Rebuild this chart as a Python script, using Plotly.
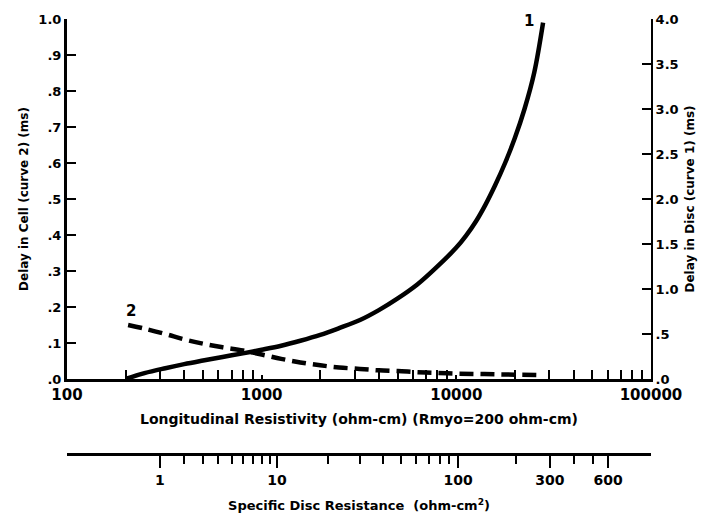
import plotly.graph_objects as go

# Curve 1: conduction delay in the disc (ms, right axis) vs longitudinal resistivity
resistivity_disc = [200, 250, 320, 400, 500, 630, 800, 1000, 1260, 1580, 2000, 2500,
                    3200, 4000, 5000, 6300, 7900, 10000, 11200, 12600, 14100, 15800,
                    17800, 20000, 22400, 25100, 27900]
delay_disc_ms = [0.0, 0.065, 0.12, 0.165, 0.205, 0.245, 0.285, 0.325, 0.37, 0.425,
                 0.49, 0.565, 0.655, 0.765, 0.895, 1.05, 1.24, 1.46, 1.59, 1.75,
                 1.935, 2.15, 2.40, 2.68, 3.00, 3.40, 3.96]

# Curve 2: conduction delay in the cell (ms, left axis)
resistivity_cell = [206, 250, 320, 400, 500, 630, 800, 1000, 1260, 1580, 2000, 2500,
                    3200, 4000, 5000, 6300, 7900, 10000, 12600, 15800, 20000, 26900]
delay_cell_ms = [0.15, 0.14, 0.125, 0.11, 0.098, 0.088, 0.079, 0.068, 0.056, 0.046,
                 0.038, 0.032, 0.028, 0.024, 0.022, 0.019, 0.017, 0.015, 0.014, 0.013,
                 0.012, 0.011]

# Longitudinal resistivity = Rmyo + 100 * specific disc resistance
R_MYO = 200
DISC_FACTOR = 100
disc_major = [1, 10, 100, 300, 600]
disc_major_text = ["1", "10", "100", "300", "600"]
disc_minor = [2, 3, 4, 5, 6, 7, 8, 9, 20, 30, 40, 50, 60, 70, 80, 90, 200, 400, 500]

rho_major = [10 ** k for k in range(2, 6)]
rho_major_text = ["100", "1000", "10000", "100000"]
rho_minor = [m * 10 ** k for k in range(2, 5) for m in range(2, 10)]

left_vals = [i / 10 for i in range(11)]
left_text = ["1.0" if v == 1 else ("." + str(int(round(v * 10)))) for v in left_vals]
right_vals = [i / 2 for i in range(9)]
right_text = [("%.1f" % v) if v >= 1 else ("." + str(int(round(v * 10)))) for v in right_vals]
right_text[0] = ".0"

FONT = "DejaVu Sans"
INK = "#000000"

fig = go.Figure()

fig.add_trace(go.Scatter(
    x=resistivity_disc, y=delay_disc_ms, xaxis="x", yaxis="y2",
    mode="lines", line=dict(color=INK, width=4.5, shape="spline", smoothing=1),
    showlegend=False, hoverinfo="skip"))

fig.add_trace(go.Scatter(
    x=resistivity_cell, y=delay_cell_ms, xaxis="x", yaxis="y",
    mode="lines", line=dict(color=INK, width=4.5, dash="14px,7px", shape="spline"),
    showlegend=False, hoverinfo="skip"))

# carrier trace so the disc-resistance scale is drawn
fig.add_trace(go.Scatter(
    x=[R_MYO + DISC_FACTOR * r for r in disc_major], y=[0] * len(disc_major),
    xaxis="x2", yaxis="y", mode="markers", marker=dict(opacity=0),
    showlegend=False, hoverinfo="skip"))

plot_bottom = 75 / 435

fig.update_layout(
    width=716, height=515,
    margin=dict(l=67, r=65, t=19, b=61),
    paper_bgcolor="white", plot_bgcolor="white",
    font=dict(family=FONT, color=INK, size=13, weight="bold"),
    xaxis=dict(
        type="log", range=[2, 5], domain=[0, 1], anchor="y",
        showline=True, linewidth=2.5, linecolor=INK, showgrid=False, zeroline=False,
        ticks="inside", ticklen=4, tickwidth=2, tickcolor=INK,
        tickmode="array", tickvals=rho_major, ticktext=rho_major_text,
        tickfont=dict(size=15, family=FONT, weight="bold"),
        minor=dict(tickmode="array", tickvals=rho_minor, ticks="inside",
                   ticklen=9, tickwidth=2, tickcolor=INK, showgrid=False),
        title=dict(text="Longitudinal Resistivity (ohm-cm) (Rmyo=200 ohm-cm)",
                   font=dict(size=14, family=FONT, weight="bold"), standoff=12),
        automargin=False,
    ),
    xaxis2=dict(
        type="log", range=[2, 5], overlaying="x", anchor="free", position=0,
        side="bottom",
        showline=True, linewidth=3, linecolor=INK, showgrid=False, zeroline=False,
        ticks="outside", ticklen=12, tickwidth=2, tickcolor=INK,
        tickmode="array", tickvals=[R_MYO + DISC_FACTOR * r for r in disc_major],
        ticktext=disc_major_text,
        tickfont=dict(size=14, family=FONT, weight="bold"),
        minor=dict(tickmode="array",
                   tickvals=[R_MYO + DISC_FACTOR * r for r in disc_minor],
                   ticks="outside", ticklen=8, tickwidth=2, tickcolor=INK, showgrid=False),
        title=dict(text="Specific Disc Resistance  (ohm-cm<sup>2</sup>)",
                   font=dict(size=13, family=FONT, weight="bold"), standoff=14),
        automargin=False,
    ),
    yaxis=dict(
        range=[0, 1], domain=[plot_bottom, 1], anchor="x",
        showline=True, linewidth=3, linecolor=INK, showgrid=False, zeroline=False,
        ticks="inside", ticklen=9, tickwidth=2, tickcolor=INK,
        tickmode="array", tickvals=left_vals, ticktext=left_text,
        tickfont=dict(size=13, family=FONT, weight="bold"),
        title=dict(text="Delay in Cell (curve 2) (ms)",
                   font=dict(size=12, family=FONT, weight="bold"), standoff=8),
        automargin=False,
    ),
    yaxis2=dict(
        range=[0, 4], overlaying="y", side="right", anchor="x",
        showline=True, linewidth=2, linecolor=INK, showgrid=False, zeroline=False,
        ticks="inside", ticklen=9, tickwidth=2, tickcolor=INK,
        tickmode="array", tickvals=right_vals, ticktext=right_text,
        tickfont=dict(size=13, family=FONT, weight="bold"),
        title=dict(text="Delay in Disc (curve 1) (ms)",
                   font=dict(size=12, family=FONT, weight="bold"), standoff=8),
        automargin=False,
    ),
    annotations=[
        dict(x=4.375, y=3.98, xref="x", yref="y2", text="1", showarrow=False,
             font=dict(size=15, family=FONT, weight="bold"), xanchor="center", yanchor="middle"),
        dict(x=2.33, y=0.19, xref="x", yref="y", text="2", showarrow=False,
             font=dict(size=15, family=FONT, weight="bold"), xanchor="center", yanchor="middle"),
    ],
)

fig.write_html("out.html")
